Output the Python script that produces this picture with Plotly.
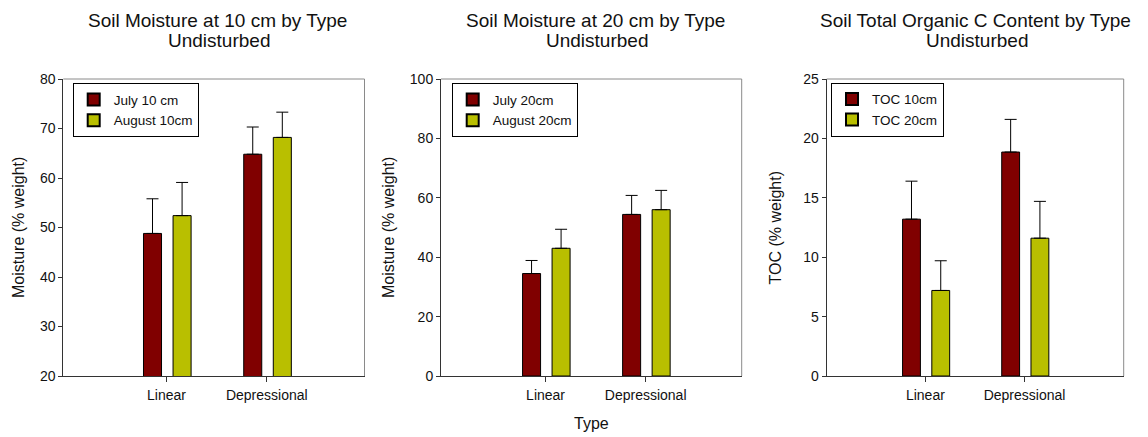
import plotly.graph_objects as go

# ---------------- data ----------------
types = ["Linear", "Depressional"]

july_10 = [48.8, 64.8]
july_10_err = [7.0, 5.5]
aug_10 = [52.4, 68.2]
aug_10_err = [6.7, 5.1]

july_20 = [34.5, 54.4]
july_20_err = [4.4, 6.4]
aug_20 = [43.0, 56.0]
aug_20_err = [6.4, 6.5]

toc_10 = [13.2, 18.85]
toc_10_err = [3.2, 2.75]
toc_20 = [7.2, 11.6]
toc_20_err = [2.5, 3.1]

panel_titles = [
    ("Soil Moisture at 10 cm by Type", "Undisturbed"),
    ("Soil Moisture at 20 cm by Type", "Undisturbed"),
    ("Soil Total Organic C Content by Type", "Undisturbed"),
]
y_titles = ["Moisture (% weight)", "Moisture (% weight)", "TOC (% weight)"]

# ---------------- style ----------------
W, H = 1148, 437
FONT = "Arial, Liberation Sans, sans-serif"
TXT = "#111111"
RED = "#800000"
OLIVE = "#B9BF00"


def px_x(p):
    return p / W


def px_y(p):
    return 1 - p / H


# plot-area pixel boxes (left, right), top / bottom
x_boxes = [(63.3, 364.5), (441.0, 741.7), (826.7, 1123.7)]
x_ranges = [[-1.03, 1.975], [-1.045, 1.96], [-0.995, 2.0]]
top_px, bot_px = 79.0, 376.0

fig = go.Figure()

series = [
    [("July 10 cm", july_10, july_10_err, RED), ("August 10cm", aug_10, aug_10_err, OLIVE)],
    [("July 20cm", july_20, july_20_err, RED), ("August 20cm", aug_20, aug_20_err, OLIVE)],
    [("TOC 10cm", toc_10, toc_10_err, RED), ("TOC 20cm", toc_20, toc_20_err, OLIVE)],
]
offsets = [-0.23, 0.065]
legend_names = ["legend", "legend2", "legend3"]

for i, pair in enumerate(series):
    ax = "" if i == 0 else str(i + 1)
    for j, (name, vals, errs, col) in enumerate(pair):
        fig.add_trace(go.Bar(
            x=types, y=vals, name=name,
            width=0.18, offset=offsets[j],
            marker=dict(color=col, line=dict(color="black", width=1)),
            error_y=dict(type="data", array=errs, arrayminus=[0] * len(errs),
                         symmetric=False, color="black", thickness=1, width=6),
            xaxis="x" + ax, yaxis="y" + ax,
            legend=legend_names[i],
        ))

y_ranges = [[20, 80], [0, 100], [0, 25]]
y_dticks = [10, 20, 5]

layout = dict(
    width=W, height=H,
    margin=dict(l=0, r=0, t=0, b=0, pad=0, autoexpand=False),
    paper_bgcolor="white", plot_bgcolor="white",
    barmode="overlay",
    font=dict(family=FONT, color=TXT, size=14),
    showlegend=True,
)

annotations = []
shapes = []
legend_boxes = [(72.7, 83.3), (451.7, 83.3), (831.0, 82.7)]
title_centers = [217, 595, 975]
ytitle_x = [18.5, 388.5, 775.0]

for i in range(3):
    ax = "" if i == 0 else str(i + 1)
    l, r = x_boxes[i]
    layout["xaxis" + ax] = dict(
        domain=[px_x(l), px_x(r)], anchor="y" + ax,
        type="category", range=x_ranges[i],
        showline=True, linecolor="#333333", linewidth=1,
        ticks="outside", ticklen=5, tickcolor="#333333",
        tickfont=dict(size=14, color=TXT),
        showgrid=False, zeroline=False, fixedrange=True,
        automargin=False, ticklabelstandoff=1,
    )
    layout["yaxis" + ax] = dict(
        domain=[px_y(bot_px), px_y(top_px)], anchor="x" + ax,
        range=y_ranges[i], dtick=y_dticks[i], tick0=0,
        showline=True, linecolor="#333333", linewidth=1,
        ticks="outside", ticklen=4, tickcolor="#333333",
        tickfont=dict(size=14, color=TXT),
        showgrid=False, zeroline=False, fixedrange=True,
        automargin=False,
    )
    # top / right frame lines (grey)
    shapes.append(dict(type="line", xref="x" + ax + " domain", yref="y" + ax + " domain",
                       x0=0, x1=1, y0=1, y1=1, line=dict(color="#8a8a8a", width=1)))
    shapes.append(dict(type="line", xref="x" + ax + " domain", yref="y" + ax + " domain",
                       x0=1, x1=1, y0=0, y1=1, line=dict(color="#8a8a8a", width=1)))
    # titles (two lines)
    t1, t2 = panel_titles[i]
    annotations.append(dict(text=t1, x=px_x(title_centers[i]), y=px_y(20.5),
                            xref="paper", yref="paper", xanchor="center", yanchor="middle",
                            showarrow=False, font=dict(size=19, color=TXT, family=FONT)))
    annotations.append(dict(text=t2, x=px_x(title_centers[i] + 2), y=px_y(40.5),
                            xref="paper", yref="paper", xanchor="center", yanchor="middle",
                            showarrow=False, font=dict(size=19, color=TXT, family=FONT)))
    # y-axis titles
    annotations.append(dict(text=y_titles[i], x=px_x(ytitle_x[i]), y=px_y((top_px + bot_px) / 2),
                            xref="paper", yref="paper", xanchor="center", yanchor="middle",
                            textangle=-90, showarrow=False,
                            font=dict(size=16, color=TXT, family=FONT)))
    # legends
    lx, ly = legend_boxes[i]
    layout[legend_names[i]] = dict(
        x=px_x(lx), y=px_y(ly), xanchor="left", yanchor="top",
        xref="paper", yref="paper",
        bordercolor="black", borderwidth=1, bgcolor="white",
        font=dict(size=13.5, color=TXT, family=FONT),
        tracegroupgap=0, itemsizing="constant",
    )

# x-axis title only under middle panel
layout["xaxis2"]["title"] = dict(text="Type", font=dict(size=16, color=TXT, family=FONT), standoff=16)

layout["annotations"] = annotations
layout["shapes"] = shapes
fig.update_layout(**layout)

fig.write_html("out.html")
